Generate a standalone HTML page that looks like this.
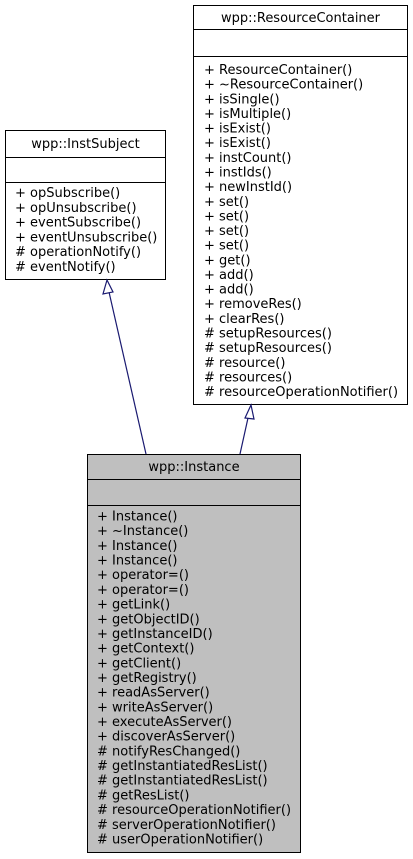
<!DOCTYPE html>
<html><head><style>
html,body{margin:0;padding:0;background:#fff;}
svg{display:block;}
text{font-family:"DejaVu Sans","Liberation Sans",sans-serif;font-size:13px;fill:#000;}
</style></head><body>
<svg width="413" height="859" viewBox="0 0 413 859" xmlns="http://www.w3.org/2000/svg">
<!-- ResourceContainer -->
<rect x="193.5" y="5.5" width="214" height="399" fill="#fff" stroke="#000"/>
<line x1="193.5" y1="29.5" x2="407.5" y2="29.5" stroke="#000"/>
<line x1="193.5" y1="56.5" x2="407.5" y2="56.5" stroke="#000"/>
<text x="300.5" y="22" text-anchor="middle">wpp::ResourceContainer</text>
<g>
<text x="204" y="74">+ ResourceContainer()</text>
<text x="204" y="88.6">+ ~ResourceContainer()</text>
<text x="204" y="103.3">+ isSingle()</text>
<text x="204" y="117.9">+ isMultiple()</text>
<text x="204" y="132.6">+ isExist()</text>
<text x="204" y="147.2">+ isExist()</text>
<text x="204" y="161.8">+ instCount()</text>
<text x="204" y="176.5">+ instIds()</text>
<text x="204" y="191.1">+ newInstId()</text>
<text x="204" y="205.8">+ set()</text>
<text x="204" y="220.4">+ set()</text>
<text x="204" y="235">+ set()</text>
<text x="204" y="249.7">+ set()</text>
<text x="204" y="264.3">+ get()</text>
<text x="204" y="279">+ add()</text>
<text x="204" y="293.6">+ add()</text>
<text x="204" y="308.2">+ removeRes()</text>
<text x="204" y="322.9">+ clearRes()</text>
<text x="204" y="337.5"># setupResources()</text>
<text x="204" y="352.2"># setupResources()</text>
<text x="204" y="366.8"># resource()</text>
<text x="204" y="381.4"># resources()</text>
<text x="204" y="396"># resourceOperationNotifier()</text>
</g>
<!-- InstSubject -->
<rect x="5.5" y="130.5" width="160" height="149" fill="#fff" stroke="#000"/>
<line x1="5.5" y1="157.5" x2="165.5" y2="157.5" stroke="#000"/>
<line x1="5.5" y1="182.5" x2="165.5" y2="182.5" stroke="#000"/>
<text x="85.5" y="148" text-anchor="middle">wpp::InstSubject</text>
<text x="15" y="197">+ opSubscribe()</text>
<text x="15" y="211.8">+ opUnsubscribe()</text>
<text x="15" y="226.6">+ eventSubscribe()</text>
<text x="15" y="241.4">+ eventUnsubscribe()</text>
<text x="15" y="256.2"># operationNotify()</text>
<text x="15" y="271"># eventNotify()</text>
<!-- Instance -->
<rect x="87.5" y="454.5" width="213" height="398" fill="#bfbfbf" stroke="#000"/>
<line x1="87.5" y1="479.5" x2="300.5" y2="479.5" stroke="#000"/>
<line x1="87.5" y1="505.5" x2="300.5" y2="505.5" stroke="#000"/>
<text x="194" y="471" text-anchor="middle">wpp::Instance</text>
<g>
<text x="97" y="520.5">+ Instance()</text>
<text x="97" y="535.2">+ ~Instance()</text>
<text x="97" y="549.9">+ Instance()</text>
<text x="97" y="564.5">+ Instance()</text>
<text x="97" y="579.2">+ operator=()</text>
<text x="97" y="593.9">+ operator=()</text>
<text x="97" y="608.6">+ getLink()</text>
<text x="97" y="623.3">+ getObjectID()</text>
<text x="97" y="637.9">+ getInstanceID()</text>
<text x="97" y="652.6">+ getContext()</text>
<text x="97" y="667.3">+ getClient()</text>
<text x="97" y="682">+ getRegistry()</text>
<text x="97" y="696.7">+ readAsServer()</text>
<text x="97" y="711.3">+ writeAsServer()</text>
<text x="97" y="726">+ executeAsServer()</text>
<text x="97" y="740.7">+ discoverAsServer()</text>
<text x="97" y="755.4"># notifyResChanged()</text>
<text x="97" y="770.1"># getInstantiatedResList()</text>
<text x="97" y="784.7"># getInstantiatedResList()</text>
<text x="97" y="799.4"># getResList()</text>
<text x="97" y="814.1"># resourceOperationNotifier()</text>
<text x="97" y="828.8"># serverOperationNotifier()</text>
<text x="97" y="843.5"># userOperationNotifier()</text>
</g>
<!-- connectors -->
<g stroke="#191970" fill="none" stroke-width="1.2">
<line x1="146" y1="454" x2="109" y2="292"/>
<polygon points="107,280 103,294 113,292" fill="#fff"/>
<line x1="240" y1="454" x2="248" y2="418"/>
<polygon points="251,405 245,418 254,419" fill="#fff"/>
</g>
</svg>
</body></html>
